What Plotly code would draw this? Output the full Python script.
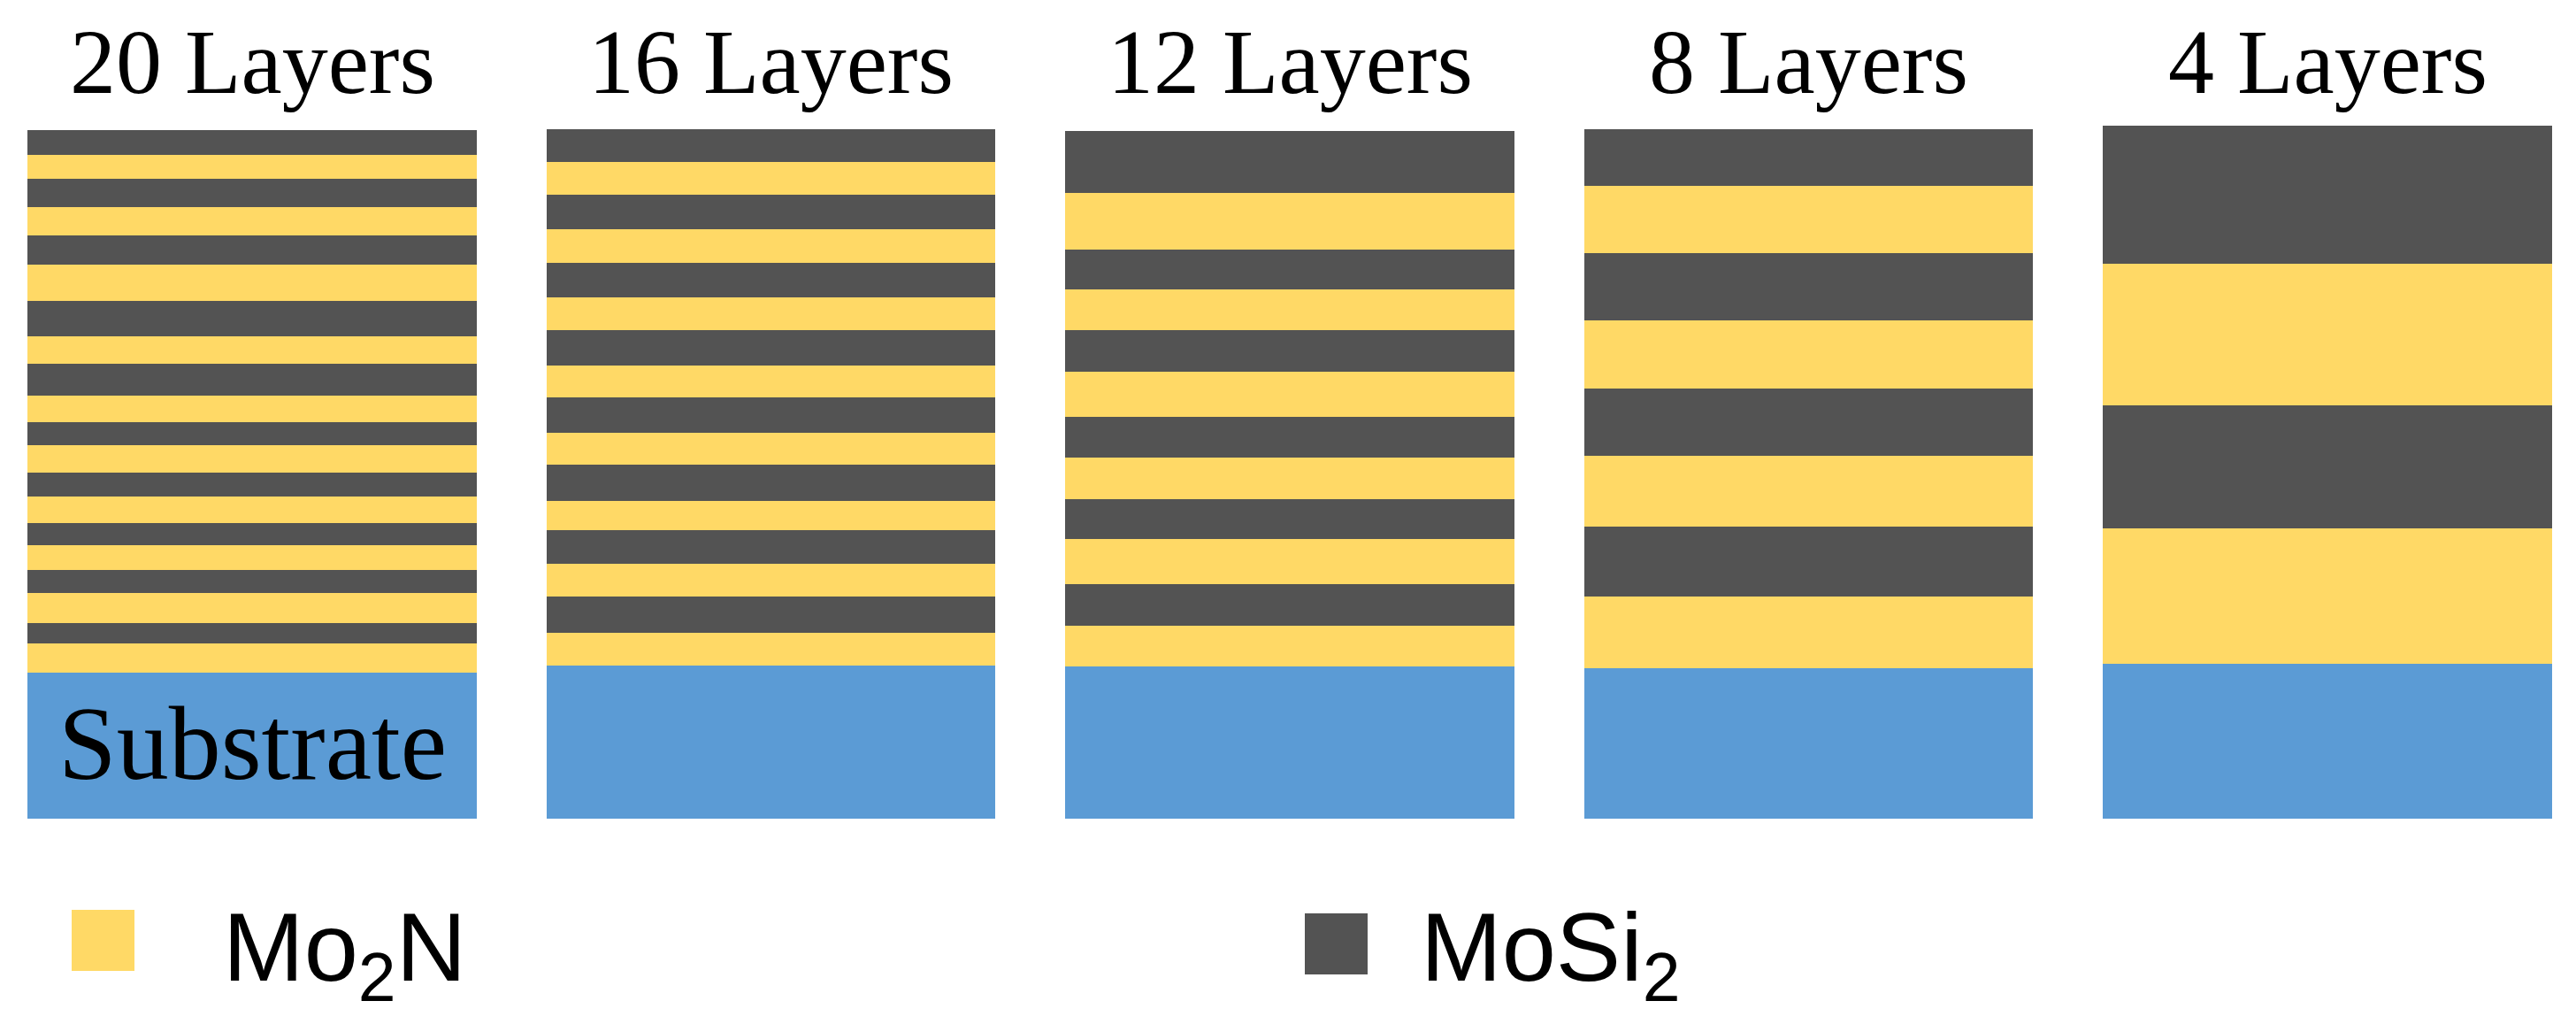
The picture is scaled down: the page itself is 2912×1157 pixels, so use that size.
import plotly.graph_objects as go

# Layer stacks (thickness in px, listed top -> bottom).
# Top layer is MoSi2, then alternating, bottom layer (on substrate) is Mo2N.
columns = ["20 Layers", "16 Layers", "12 Layers", "8 Layers", "4 Layers"]
substrate = [165, 173, 172, 170, 175]
layers_20 = [28, 27, 32, 32, 33, 41, 40, 31, 36, 30, 26, 31, 27, 30, 25, 28, 26, 34, 23, 33]
layers_16 = [37, 37, 39, 38, 39, 37, 40, 36, 40, 36, 41, 33, 38, 37, 41, 37]
layers_12 = [70, 64, 45, 46, 47, 51, 46, 47, 45, 51, 47, 46]
layers_8 = [64, 76, 76, 77, 76, 80, 79, 81]
layers_4 = [156, 160, 139, 153]
stacks = [layers_20, layers_16, layers_12, layers_8, layers_4]
materials = ["MoSi<sub>2</sub>", "Mo<sub>2</sub>N"]

colors = {
    "Substrate": "#5B9BD5",
    "Mo<sub>2</sub>N": "#FFD966",
    "MoSi<sub>2</sub>": "#535353",
}

W, H = 2912, 1157
BAR_W = 0.866
serif = "Liberation Serif, Times New Roman, serif"
sans = "Liberation Sans, Arial, sans-serif"

# build bar segments bottom -> top
seg = {m: dict(x=[], y=[], base=[]) for m in materials}
for i, stack in enumerate(stacks):
    level = substrate[i]
    for k, t in reversed(list(enumerate(stack))):
        m = materials[k % 2]
        seg[m]["x"].append(i)
        seg[m]["y"].append(t)
        seg[m]["base"].append(level)
        level += t

fig = go.Figure()
fig.add_trace(go.Bar(
    x=list(range(len(columns))), y=substrate, base=[0] * len(columns),
    width=BAR_W, marker=dict(color=colors["Substrate"], line_width=0),
    name="Substrate", showlegend=False,
))
for m in materials:
    fig.add_trace(go.Bar(
        x=seg[m]["x"], y=seg[m]["y"], base=seg[m]["base"],
        width=BAR_W, marker=dict(color=colors[m], line_width=0),
        name=m, showlegend=False,
    ))


def px(xp):
    return xp / W


def py(yp):
    return 1 - yp / H


# column titles
for i, name in enumerate(columns):
    fig.add_annotation(
        x=i, xref="x", y=py(10), yref="paper", yanchor="top",
        text=name, showarrow=False,
        font=dict(family=serif, size=104, color="black"),
    )

fig.add_annotation(
    x=0, xref="x", y=py(773), yref="paper", yanchor="top",
    text="Substrate", showarrow=False,
    font=dict(family=serif, size=118, color="black"),
)

# hand-made legend with large swatches
legend_items = [
    ("Mo<sub>2</sub>N", 81, 1028, 250),
    ("MoSi<sub>2</sub>", 1475, 1032, 1604),
]
for label, sx, sy, tx in legend_items:
    fig.add_shape(
        type="rect", xref="paper", yref="paper",
        x0=px(sx), x1=px(sx + 71), y0=py(sy), y1=py(sy + 69),
        fillcolor=colors[label], line_width=0,
    )
    fig.add_annotation(
        x=px(tx), xref="paper", y=py(1006), yref="paper",
        xanchor="left", yanchor="top",
        text=label, showarrow=False,
        font=dict(family=sans, size=110, color="black"),
    )

fig.update_layout(
    width=W, height=H,
    margin=dict(l=0, r=0, t=0, b=0),
    paper_bgcolor="white", plot_bgcolor="white",
    barmode="overlay", bargap=0,
    xaxis=dict(range=[-285 / 586.5, (W - 285) / 586.5], visible=False),
    yaxis=dict(range=[925 - H, 925], visible=False),
)

fig.write_html(
    "out.html",
    config={"displayModeBar": False},
    post_script="document.body.style.margin='0';",
)
